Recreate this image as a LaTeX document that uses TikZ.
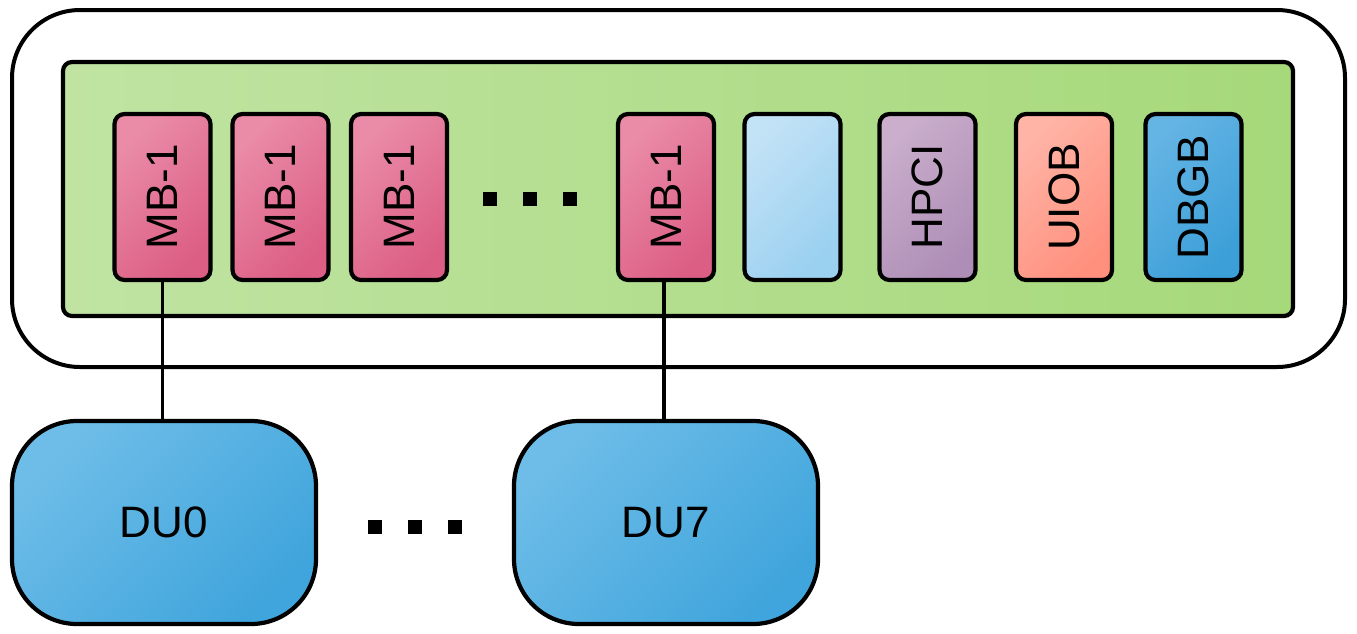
\documentclass[tikz,border=0pt]{standalone}
\usepackage{fontspec}
\setmainfont{Liberation Sans}
\begin{document}
\begin{tikzpicture}[x=1pt,y=-1pt,
  box/.style={draw=black, line width=4.2pt, rounded corners=10pt, minimum width=96pt, minimum height=166pt, inner sep=0pt, font=\fontsize{44}{48}\selectfont},
  mbbox/.style={box, top color=mbA, bottom color=mbB, shading angle=45},
  dubox/.style={draw=black, line width=4.2pt, rounded corners=65pt, minimum width=304pt, minimum height=203pt, inner sep=0pt, top color=duA, bottom color=duB, shading angle=45, font=\fontsize{44}{48}\selectfont},
  link/.style={line width=3.2pt},
  dot/.style={fill=black}
]
\definecolor{mbA}{HTML}{EA8CA8}
\definecolor{mbB}{HTML}{DC5E84}
\definecolor{lbA}{HTML}{C2E2F6}
\definecolor{lbB}{HTML}{9AD0F0}
\definecolor{hpA}{HTML}{CAAECC}
\definecolor{hpB}{HTML}{AE8EB6}
\definecolor{uiA}{HTML}{FFB4A6}
\definecolor{uiB}{HTML}{FF907E}
\definecolor{dbA}{HTML}{64B4E4}
\definecolor{dbB}{HTML}{3C9FD8}
\definecolor{duA}{HTML}{6EBDE8}
\definecolor{duB}{HTML}{40A5DC}
\definecolor{grA}{HTML}{C0E3A2}
\definecolor{grB}{HTML}{A6D97A}
\useasboundingbox (0,0) rectangle (1357,633);
% outer container
\draw[line width=4pt, rounded corners=68pt] (12,10) rectangle (1345,367);
% green panel
\draw[line width=4.2pt, rounded corners=9pt, left color=grA, right color=grB] (63,62) rectangle (1293,316);
% modules
\node[mbbox] (mb1) at (162.5,197) {\rotatebox{90}{MB-1}};
\node[mbbox] (mb2) at (280.5,197) {\rotatebox{90}{MB-1}};
\node[mbbox] (mb3) at (399,197) {\rotatebox{90}{MB-1}};
\node[mbbox] (mb4) at (666,197) {\rotatebox{90}{MB-1}};
\node[box, top color=lbA, bottom color=lbB, shading angle=45] (blank) at (792.5,197) {};
\node[box, top color=hpA, bottom color=hpB, shading angle=45] (hpci) at (927.5,197) {\rotatebox{90}{HPCI}};
\node[box, top color=uiA, bottom color=uiB, shading angle=45] (uiob) at (1064,197) {\rotatebox{90}{UIOB}};
\node[box, top color=dbA, bottom color=dbB, shading angle=45] (dbgb) at (1193.5,197) {\rotatebox{90}{DBGB}};
% dots in panel
\fill[dot] (483,192) rectangle (497,206);
\fill[dot] (523,192) rectangle (537,206);
\fill[dot] (563,192) rectangle (577,206);
% DUs
\node[dubox] (du0) at (164,522.5) {DU0};
\node[dubox] (du7) at (666,522.5) {DU7};
\fill[dot] (368,520) rectangle (382,534);
\fill[dot] (408,520) rectangle (422,534);
\fill[dot] (448,520) rectangle (462,534);
% links
\draw[link] (mb1.south) -- (mb1.south |- du0.north);
\draw[link] (mb4.south -| 664,0) -- (du7.north -| 664,0);
\end{tikzpicture}
\end{document}
